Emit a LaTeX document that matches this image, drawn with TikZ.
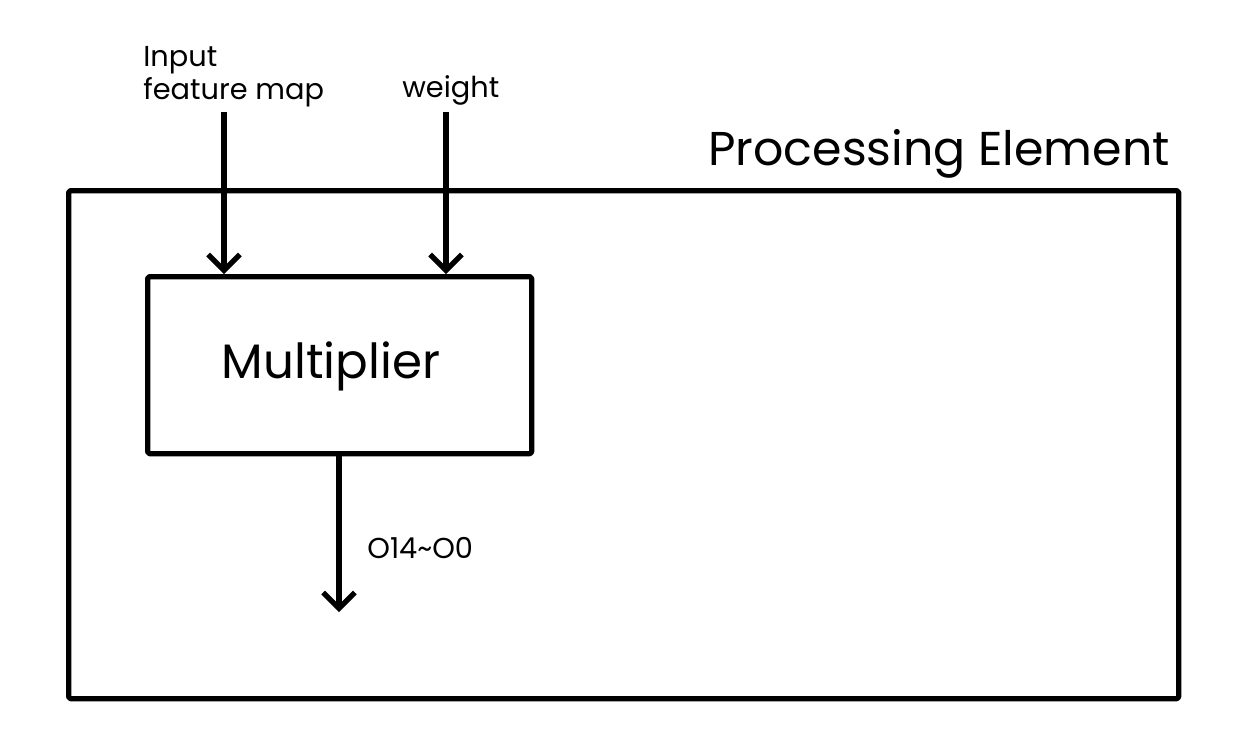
\documentclass[tikz,border=0pt]{standalone}
\usepackage{fontspec}
\setmainfont{Poppins}
\usetikzlibrary{arrows.meta}
\begin{document}
\begin{tikzpicture}[x=0.02cm,y=-0.02cm,
  box/.style={draw,line width=3pt,line join=round,rounded corners=1pt},
  arr/.style={line width=3pt,-{Straight Barb[length=9pt,width=18pt,line width=3pt]}},
  lbl/.style={inner sep=0pt,font=\fontsize{16.4}{18.5}\selectfont,align=left}]
\useasboundingbox (0,0) rectangle (1245,752);
\node[box,minimum width=1110*0.02cm,minimum height=508*0.02cm,anchor=north west,inner sep=0pt] (pe) at (66,188) {};
\node[anchor=south east,inner sep=0pt,font=\fontsize{27}{32}\selectfont] (pelbl) at (1170,179) {Processing Element};
\node[box,minimum width=384*0.02cm,minimum height=177*0.02cm,anchor=north west,inner sep=0pt] (mul) at (145,274) {};
\node[inner sep=0pt,font=\fontsize{27.5}{32}\selectfont] (multxt) at (331,366) {Multiplier};
\node[lbl,anchor=south west] (ifm) at (143,107) {Input\\feature map};
\node[lbl,anchor=south west] (w) at (402,106) {weight};
\coordinate (i1) at (224,112);
\coordinate (w1) at (446,112);
\coordinate (o1) at (339,612);
\draw[arr] (i1) -- (i1 |- mul.north);
\draw[arr] (w1) -- (w1 |- mul.north);
\draw[arr] (o1 |- mul.south) -- (o1);
\node[lbl,anchor=west] (olbl) at (367,548) {O14\textasciitilde O0};
\end{tikzpicture}
\end{document}
